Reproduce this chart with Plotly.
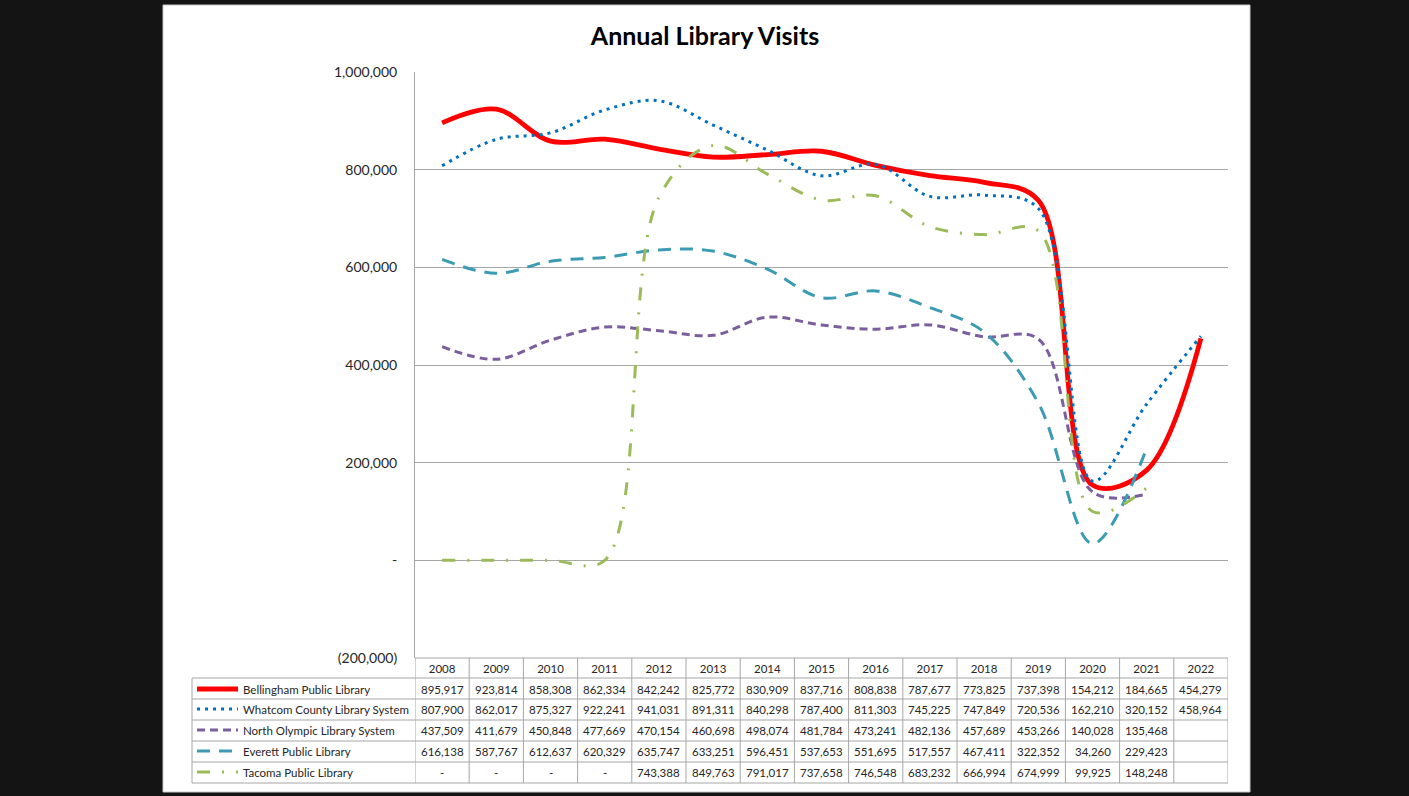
import plotly.graph_objects as go

years = [str(y) for y in range(2008, 2023)]

bellingham = [895917, 923814, 858308, 862334, 842242, 825772, 830909, 837716, 808838, 787677, 773825, 737398, 154212, 184665, 454279]
whatcom = [807900, 862017, 875327, 922241, 941031, 891311, 840298, 787400, 811303, 745225, 747849, 720536, 162210, 320152, 458964]
north_olympic = [437509, 411679, 450848, 477669, 470154, 460698, 498074, 481784, 473241, 482136, 457689, 453266, 140028, 135468, None]
everett = [616138, 587767, 612637, 620329, 635747, 633251, 596451, 537653, 551695, 517557, 467411, 322352, 34260, 229423, None]
tacoma = [0, 0, 0, 0, 743388, 849763, 791017, 737658, 746548, 683232, 666994, 674999, 99925, 148248, None]

series_names = ["Bellingham Public Library", "Whatcom County Library System",
                "North Olympic Library System", "Everett Public Library", "Tacoma Public Library"]
series_values = [bellingham, whatcom, north_olympic, everett, tacoma]
series_colors = ["#FF0000", "#0070C0", "#7B5E9E", "#3A9BB3", "#9BBB59"]
series_dash = ["solid", "3px,5px", "8px,5px", "13px,9px", "13px,12px,2px,12px"]
series_width = [4.8, 3, 3, 3, 3]

y_tickvals = [-200000, 0, 200000, 400000, 600000, 800000, 1000000]
y_ticktext = ["(200,000)", "-", "200,000", "400,000", "600,000", "800,000", "1,000,000"]

W, H = 1409, 796
L, R, T, B = 415, 1228, 72, 658

def xp(px):
    return (px - L) / (R - L)

def yp(py):
    return (B - py) / (B - T)

font_family = "Lato, 'Open Sans', sans-serif"

fig = go.Figure()
for name, vals, col, dash, wd in zip(series_names, series_values, series_colors, series_dash, series_width):
    xs = [i for i, v in enumerate(vals) if v is not None]
    ys = [v for v in vals if v is not None]
    fig.add_trace(go.Scatter(x=xs, y=ys, mode="lines", name=name,
                             line=dict(color=col, dash=dash, width=wd, shape="spline", smoothing=1.0),
                             showlegend=False, hoverinfo="skip"))

shapes = []
shapes.append(dict(type="rect", xref="paper", yref="paper", x0=xp(163), x1=xp(1250), y0=yp(792), y1=yp(5),
                   fillcolor="white", line=dict(color="#c8c8c8", width=1), layer="below"))
grey = "#a6a6a6"
shapes.append(dict(type="line", xref="paper", yref="paper", x0=xp(L), x1=xp(R), y0=yp(658), y1=yp(658), line=dict(color=grey, width=1)))
row_lines = [678, 699, 720, 741, 762, 783]
for ry in row_lines:
    shapes.append(dict(type="line", xref="paper", yref="paper", x0=xp(192), x1=xp(R), y0=yp(ry), y1=yp(ry), line=dict(color=grey, width=1)))
shapes.append(dict(type="line", xref="paper", yref="paper", x0=xp(192), x1=xp(192), y0=yp(678), y1=yp(783), line=dict(color=grey, width=1)))
for i in range(len(years) + 1):
    shapes.append(dict(type="line", xref="x", yref="paper", x0=i - 0.5, x1=i - 0.5, y0=yp(658), y1=yp(783), line=dict(color=grey, width=1)))

annotations = []
row_centers = [689, 709, 730, 751, 772]
for name, vals, col, dash, wd, rc in zip(series_names, series_values, series_colors, series_dash, series_width, row_centers):
    shapes.append(dict(type="line", xref="paper", yref="paper", x0=xp(197), x1=xp(238), y0=yp(rc), y1=yp(rc),
                       line=dict(color=col, dash=dash, width=wd)))
    annotations.append(dict(text=name, xref="paper", yref="paper", x=xp(241), y=yp(rc), xanchor="left", yanchor="middle",
                            showarrow=False, font=dict(size=11.5, color="#262626", family=font_family)))
    for i, v in enumerate(vals):
        if v is None:
            continue
        txt = "-" if v == 0 else f"{v:,}"
        annotations.append(dict(text=txt, xref="x", yref="paper", x=i, y=yp(rc), xanchor="center", yanchor="middle",
                                showarrow=False, font=dict(size=11.5, color="#262626", family=font_family)))

fig.update_layout(
    width=W, height=H,
    paper_bgcolor="#141414", plot_bgcolor="white",
    margin=dict(l=L, r=W - R, t=T, b=H - B, pad=0),
    title=dict(text="<b>Annual Library Visits</b>", x=705 / W, xanchor="center", xref="container", y=1 - 36 / H, yanchor="middle",
               font=dict(size=25, color="black", family=font_family)),
    shapes=shapes, annotations=annotations,
    xaxis=dict(tickmode="array", tickvals=list(range(len(years))), ticktext=years, range=[-0.5, 14.5],
               showgrid=False, zeroline=False, showline=False, ticks="", ticklabelstandoff=2,
               tickfont=dict(size=11.5, color="#262626", family=font_family)),
    yaxis=dict(range=[-200000, 1000000], tickvals=y_tickvals, ticktext=y_ticktext,
               showgrid=True, gridcolor=grey, gridwidth=1, zeroline=False,
               showline=True, linecolor=grey, linewidth=1, ticks="", ticklabelstandoff=14,
               tickfont=dict(size=14, color="#262626", family=font_family)),
)

fig.write_html("out.html", config={"displayModeBar": False},
               post_script="document.body.style.margin='0';document.body.style.background='#141414';document.body.style.overflow='hidden';")
